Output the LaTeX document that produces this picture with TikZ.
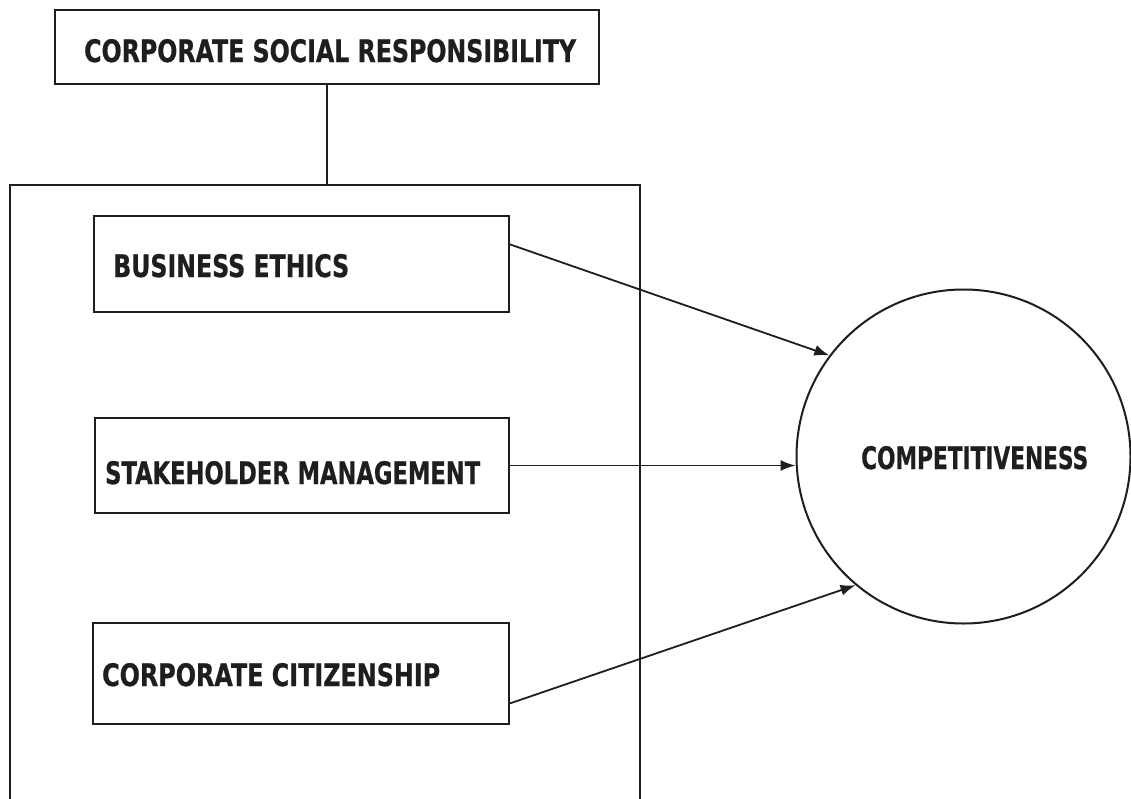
\documentclass[tikz,border=0pt]{standalone}
\usepackage{fontspec}
\usepackage{graphicx}
\usetikzlibrary{arrows.meta,calc}
\newfontfamily\lblfont{DejaVu Sans}[BoldFeatures={FakeBold=0.8}]
% squeeze a label horizontally to a given width, keeping its height
\newcommand{\sqz}[2]{\resizebox{#1pt}{\height}{#2}}
\definecolor{ink}{HTML}{1E1E1E}
\begin{document}
\begin{tikzpicture}[x=1pt,y=-1pt,
  frame/.style={draw=ink,line width=2pt,rectangle,inner sep=0pt,anchor=north west},
  lbl/.style={anchor=base west,inner sep=0pt,font=\lblfont\bfseries\fontsize{31}{31}\selectfont,text=ink},
  link/.style={draw=ink,line width=1.8pt},
  flow/.style={link,-{Latex[length=15pt,width=11pt]}}]
\useasboundingbox (0,0) rectangle (1131,798);
\fill[white] (0,0) rectangle (1131,798);
\clip (0,0) rectangle (1131,798);

% boxes
\node[frame,minimum width=544pt,minimum height=74pt] (csr) at (54,9) {};
\node[frame,minimum width=630pt,minimum height=700pt] (group) at (9,184) {};
\node[frame,minimum width=415pt,minimum height=96pt] (be) at (93,215) {};
\node[frame,minimum width=414pt,minimum height=95pt] (sm) at (94,417) {};
\node[frame,minimum width=416pt,minimum height=101pt] (cc) at (92,622) {};
\node[draw=ink,line width=2pt,circle,minimum size=334pt,inner sep=0pt] (comp) at (963.5,456.5) {};

% labels
\node[lbl] (csrtext) at (84,62) {\sqz{492}{CORPORATE SOCIAL RESPONSIBILITY}};
\node[lbl] (betext) at (113,277) {\sqz{236}{BUSINESS ETHICS}};
\node[lbl] (smtext) at (105,484) {\sqz{375}{STAKEHOLDER MANAGEMENT}};
\node[lbl] (cctext) at (102,686) {\sqz{338}{CORPORATE CITIZENSHIP}};
\node[lbl] (comptext) at (861,469) {\sqz{227}{COMPETITIVENESS}};

% connectors
\draw[link] (csr.south) -- (csr.south |- group.north);
\draw[flow] ($(be.north east)!0.30!(be.south east)$) -- (comp.143.2);
\draw[flow] (sm.east) -- (sm.east -| comp.west);
\draw[flow] ($(cc.north east)!0.79!(cc.south east)$) -- (comp.230.8);
\end{tikzpicture}
\end{document}
